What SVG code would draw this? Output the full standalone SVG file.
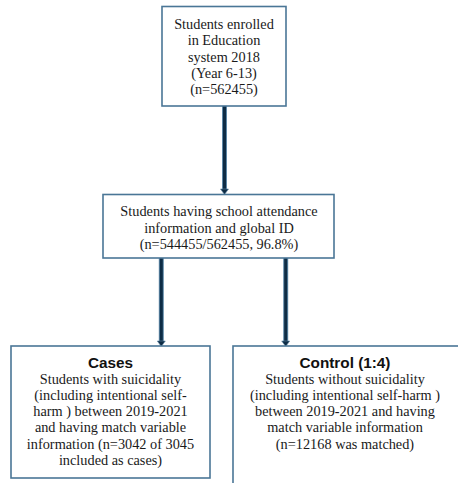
<svg xmlns="http://www.w3.org/2000/svg" width="458" height="483" viewBox="0 0 458 483">
<defs>
<style>
.box{fill:#fff;stroke:#4a7696;stroke-width:1.6}
.t{font-family:"Liberation Serif","Times New Roman",serif;font-size:14.3px;fill:#1a1a1a;text-anchor:middle}
.h{font-family:"Liberation Sans",Arial,sans-serif;font-size:15.3px;font-weight:bold;fill:#111;text-anchor:middle}
.sh{stroke:#5d87a6;stroke-width:5;fill:none}
.co{stroke:#0e2c45;stroke-width:3;fill:none}
.ah{fill:#0e2c45;stroke:#5d87a6;stroke-width:0.6}
</style>
</defs>
<rect width="458" height="483" fill="#fff"/>
<g id="connectors">
<line class="sh" x1="224.5" y1="106" x2="224.5" y2="190"/>
<line class="co" x1="224.5" y1="106" x2="224.5" y2="190"/>
<polygon class="ah" points="220.5,189 228.5,189 224.5,194.5"/>
<line class="sh" x1="161.3" y1="258" x2="161.3" y2="342"/>
<line class="co" x1="161.3" y1="258" x2="161.3" y2="342"/>
<polygon class="ah" points="157.3,341 165.3,341 161.3,346.5"/>
<line class="sh" x1="285.7" y1="258" x2="285.7" y2="342"/>
<line class="co" x1="285.7" y1="258" x2="285.7" y2="342"/>
<polygon class="ah" points="281.7,341 289.7,341 285.7,346.5"/>
</g>
<g id="enrolled">
<rect class="box" x="162" y="6.5" width="124" height="99.5"/>
<text class="t" x="224" y="29">Students enrolled</text>
<text class="t" x="224" y="45.3">in Education</text>
<text class="t" x="224" y="61.6">system 2018</text>
<text class="t" x="224" y="77.9">(Year 6-13)</text>
<text class="t" x="224" y="94.2">(n=562455)</text>
</g>
<g id="attendance">
<rect class="box" x="103" y="194.5" width="231" height="63.5"/>
<text class="t" x="219" y="216">Students having school attendance</text>
<text class="t" x="219" y="232.5">information and global ID</text>
<text class="t" x="219" y="249">(n=544455/562455, 96.8%)</text>
</g>
<g id="cases">
<rect class="box" x="11" y="346" width="199" height="132"/>
<text class="h" x="110.5" y="368.3">Cases</text>
<text class="t" x="110.5" y="383.5">Students with suicidality</text>
<text class="t" x="110.5" y="399.8">(including intentional self-</text>
<text class="t" x="110.5" y="416.1">harm ) between 2019-2021</text>
<text class="t" x="110.5" y="432.4">and having match variable</text>
<text class="t" x="110.5" y="448.7">information (n=3042 of 3045</text>
<text class="t" x="110.5" y="465">included as cases)</text>
</g>
<g id="control">
<rect class="box" x="233" y="346" width="234" height="142"/>
<text class="h" x="345" y="368.3">Control (1:4)</text>
<text class="t" x="345" y="383.5">Students without suicidality</text>
<text class="t" x="345" y="399.8">(including intentional self-harm )</text>
<text class="t" x="345" y="416.1">between 2019-2021 and having</text>
<text class="t" x="345" y="432.4">match variable information</text>
<text class="t" x="345" y="448.7">(n=12168 was matched)</text>
</g>
</svg>
